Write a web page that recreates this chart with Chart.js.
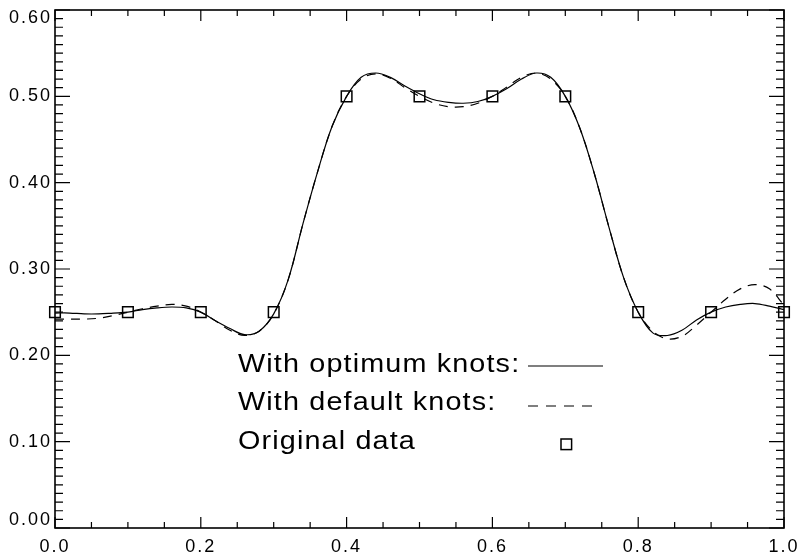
<!DOCTYPE html>
<html>
<head>
<meta charset="utf-8">
<script src="https://cdn.jsdelivr.net/npm/chart.js@4.4.1/dist/chart.umd.min.js"></script>
<style>
  html, body { margin: 0; padding: 0; background: #fff; }
</style>
</head>
<body>
<canvas id="fitChart" width="801" height="558"></canvas>
<script>
// sample points of the two fitted curves
const curveX = [
  0.00, 0.02, 0.04, 0.06, 0.08, 0.10, 0.12, 0.14, 0.16, 0.18,
  0.20, 0.22, 0.24, 0.26, 0.28, 0.30, 0.32, 0.34, 0.36, 0.38,
  0.40, 0.42, 0.44, 0.46, 0.48, 0.50, 0.52, 0.54, 0.56, 0.58,
  0.60, 0.62, 0.64, 0.66, 0.68, 0.70, 0.72, 0.74, 0.76, 0.78,
  0.80, 0.82, 0.84, 0.86, 0.88, 0.90, 0.92, 0.94, 0.96, 0.98, 1.00
];
const optimumY = [
  0.249, 0.249, 0.248, 0.248, 0.249, 0.250, 0.253, 0.255, 0.256, 0.255,
  0.250, 0.240, 0.231, 0.224, 0.228, 0.248, 0.288, 0.352, 0.412, 0.465,
  0.500, 0.522, 0.527, 0.522, 0.512, 0.503, 0.496, 0.493, 0.492, 0.494,
  0.500, 0.509, 0.520, 0.527, 0.522, 0.500, 0.463, 0.410, 0.348, 0.290,
  0.250, 0.226, 0.223, 0.229, 0.241, 0.250, 0.256, 0.259, 0.260, 0.257, 0.253
];
const defaultY = [
  0.242, 0.242, 0.242, 0.243, 0.246, 0.250, 0.254, 0.257, 0.259, 0.257,
  0.250, 0.240, 0.229, 0.223, 0.228, 0.248, 0.288, 0.352, 0.412, 0.465,
  0.500, 0.520, 0.526, 0.521, 0.510, 0.500, 0.492, 0.488, 0.488, 0.492,
  0.500, 0.511, 0.522, 0.527, 0.520, 0.500, 0.463, 0.410, 0.348, 0.290,
  0.250, 0.228, 0.219, 0.222, 0.235, 0.250, 0.265, 0.277, 0.282, 0.277, 0.258
];

// original data (squares)
const dataX = [0.0, 0.1, 0.2, 0.3, 0.4, 0.5, 0.6, 0.7, 0.8, 0.9, 1.0];
const dataY = [0.25, 0.25, 0.25, 0.25, 0.5, 0.5, 0.5, 0.5, 0.25, 0.25, 0.25];

const xTicks = [0.0, 0.2, 0.4, 0.6, 0.8, 1.0];
const yTicks = [0.0, 0.1, 0.2, 0.3, 0.4, 0.5, 0.6];

const legendLabels = ['With optimum knots:', 'With default knots:', 'Original data'];

const toPoints = (xs, ys) => xs.map((x, i) => ({ x: x, y: ys[i] }));

// wide letter spacing like the original plot fonts
const spacing = {
  id: 'spacing',
  beforeDraw(chart) { chart.ctx.letterSpacing = '2px'; },
  afterDraw(chart) { chart.ctx.letterSpacing = '0px'; }
};

// box around the plot with inward ticks on all four sides
const frameTicks = {
  id: 'frameTicks',
  afterDatasetsDraw(chart) {
    const ctx = chart.ctx;
    const a = chart.chartArea;
    const x = chart.scales.x;
    const y = chart.scales.y;
    ctx.save();
    ctx.strokeStyle = '#000';
    ctx.lineWidth = 1.6;
    ctx.strokeRect(a.left, a.top, a.right - a.left, a.bottom - a.top);
    ctx.lineWidth = 1.2;
    ctx.beginPath();
    for (let i = 0; i <= 20; i++) {
      const px = x.getPixelForValue(i * 0.05);
      const len = i % 4 === 0 ? 11 : 6;
      ctx.moveTo(px, a.bottom); ctx.lineTo(px, a.bottom - len);
      ctx.moveTo(px, a.top); ctx.lineTo(px, a.top + len);
    }
    for (let i = 0; i <= 60; i++) {
      const py = y.getPixelForValue(i * 0.01);
      const len = i % 10 === 0 ? 15 : 8;
      ctx.moveTo(a.left, py); ctx.lineTo(a.left + len, py);
      ctx.moveTo(a.right, py); ctx.lineTo(a.right - len, py);
    }
    ctx.stroke();
    ctx.restore();
  }
};

// legend block written inside the plot
const textLegend = {
  id: 'textLegend',
  afterDraw(chart) {
    const ctx = chart.ctx;
    const left = 238;
    const base = [372, 410, 449];
    ctx.save();
    ctx.font = '25px "Liberation Sans", Arial, sans-serif';
    ctx.letterSpacing = '1px';
    ctx.fillStyle = '#000';
    ctx.textBaseline = 'alphabetic';
    legendLabels.forEach((t, i) => {
      ctx.save();
      ctx.translate(left, base[i]);
      ctx.scale(1.15, 1);
      ctx.fillText(t, 0, 0);
      ctx.restore();
    });
    ctx.letterSpacing = '0px';
    ctx.strokeStyle = '#000';
    ctx.lineWidth = 1.2;
    ctx.beginPath();
    ctx.moveTo(528, 366); ctx.lineTo(603, 366);
    ctx.stroke();
    ctx.setLineDash([10, 8]);
    ctx.beginPath();
    ctx.moveTo(528, 406); ctx.lineTo(598, 406);
    ctx.stroke();
    ctx.setLineDash([]);
    ctx.lineWidth = 1.5;
    ctx.strokeRect(561, 439, 10.6, 10.6);
    ctx.restore();
  }
};

const ctx = document.getElementById('fitChart').getContext('2d');
window.fitChart = new Chart(ctx, {
  type: 'line',
  data: {
    datasets: [
      {
        label: 'With optimum knots',
        data: toPoints(curveX, optimumY),
        borderColor: '#000',
        borderWidth: 1.2,
        pointRadius: 0,
        tension: 0.35,
        fill: false
      },
      {
        label: 'With default knots',
        data: toPoints(curveX, defaultY),
        borderColor: '#000',
        borderWidth: 1.2,
        borderDash: [9, 7],
        pointRadius: 0,
        tension: 0.35,
        fill: false
      },
      {
        label: 'Original data',
        data: toPoints(dataX, dataY),
        showLine: false,
        pointStyle: 'rect',
        pointRadius: 7.5,
        pointBorderWidth: 1.5,
        pointBorderColor: '#000',
        pointBackgroundColor: 'rgba(0,0,0,0)',
        clip: false
      }
    ]
  },
  options: {
    responsive: false,
    animation: false,
    devicePixelRatio: 1,
    layout: { padding: { top: 10, right: 17, left: 0, bottom: 0 } },
    plugins: {
      legend: { display: false },
      tooltip: { enabled: false }
    },
    scales: {
      x: {
        type: 'linear',
        min: 0,
        max: 1,
        afterBuildTicks: s => { s.ticks = xTicks.map(v => ({ value: v })); },
        afterFit: s => { s.height = 30; s.paddingLeft = 0; s.paddingRight = 0; },
        grid: { display: false, drawTicks: false },
        border: { display: false },
        ticks: {
          padding: 8,
          maxRotation: 0,
          color: '#000',
          font: { family: '"Liberation Sans", Arial, sans-serif', size: 18 },
          callback: v => v.toFixed(1)
        }
      },
      y: {
        type: 'linear',
        min: 0,
        max: 0.6,
        afterBuildTicks: s => { s.ticks = yTicks.map(v => ({ value: v })); },
        afterFit: s => { s.width = 55; s.paddingTop = 0; s.paddingBottom = 0; },
        grid: { display: false, drawTicks: false },
        border: { display: false },
        ticks: {
          padding: 3,
          color: '#000',
          font: { family: '"Liberation Sans", Arial, sans-serif', size: 18, lineHeight: 0.85 },
          callback: v => {
            const t = v.toFixed(2);
            if (Math.abs(v) < 1e-9) return [t, ''];
            if (Math.abs(v - 0.6) < 1e-9) return ['', t];
            return t;
          }
        }
      }
    }
  },
  plugins: [spacing, frameTicks, textLegend]
});
</script>
</body>
</html>
